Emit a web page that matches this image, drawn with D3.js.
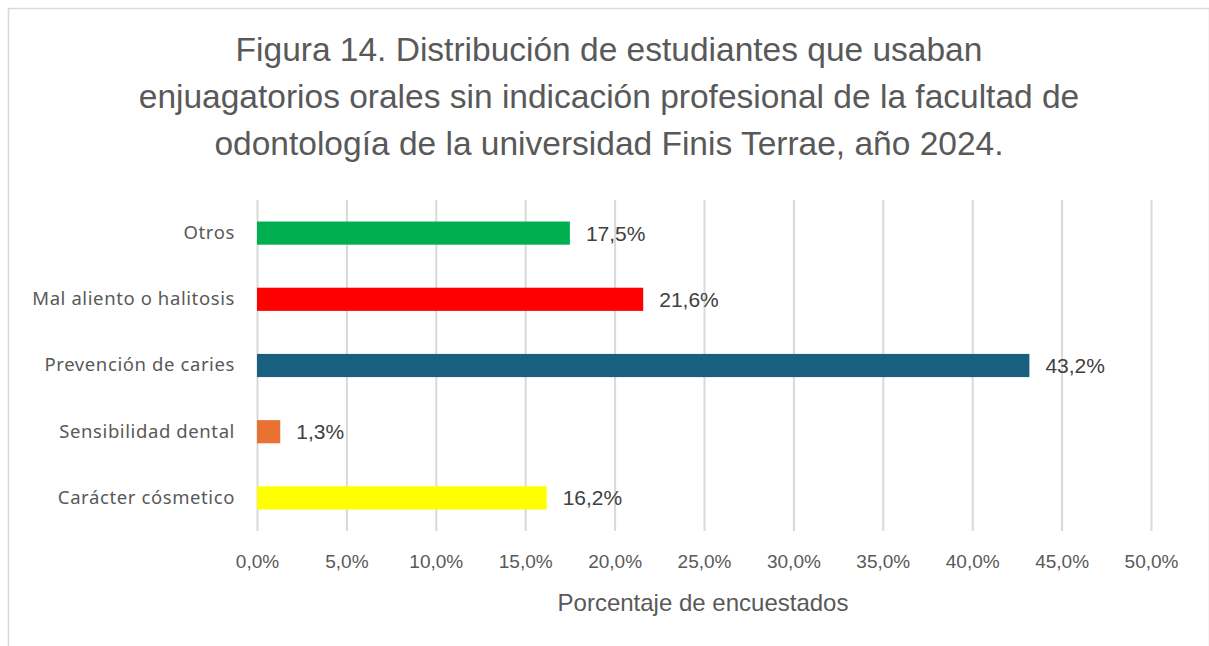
<!DOCTYPE html>
<meta charset="utf-8">
<style>
body { margin: 0; background: #fff; }
.grid line { stroke: #d9d9d9; stroke-width: 2px; }
.grid path { display: none; }
.axisx text { fill: #595959; font-family: "Liberation Sans", Arimo, sans-serif; font-size: 19px; }
.axisx path, .axisx line { display: none; }
.axisy text { fill: #595959; font-family: "Noto Sans", sans-serif; font-size: 18.5px; letter-spacing: 0.6px; }
.axisy path, .axisy line { display: none; }
</style>
<body>
<script src="https://d3js.org/d3.v7.min.js"></script>
<script>

// data
var categories = ["Otros", "Mal aliento o halitosis", "Prevención de caries", "Sensibilidad dental", "Carácter cósmetico"];
var values = [17.5, 21.6, 43.2, 1.3, 16.2];
var barColors = ["#00b050", "#ff0000", "#185f80", "#e97132", "#ffff00"];
var xTicks = [0, 5, 10, 15, 20, 25, 30, 35, 40, 45, 50];
var titleLines = [
  "Figura 14. Distribución de estudiantes que usaban",
  "enjuagatorios orales sin indicación profesional de la facultad de",
  "odontología de la universidad Finis Terrae, año 2024."
];

var W = 1209, H = 646;
var svg = d3.select("body").append("svg")
    .attr("width", W)
    .attr("height", H);

// outer chart frame
svg.append("rect")
    .attr("x", 8.5).attr("y", 8.5)
    .attr("width", W - 8).attr("height", H)
    .attr("fill", "#fff")
    .attr("stroke", "#d9d9d9")
    .attr("stroke-width", 1.5);

var x = d3.scaleLinear().domain([0, 50]).range([257, 1151]);
var y = d3.scaleBand().domain(categories).range([200, 531]).paddingInner(0.65).paddingOuter(0.325);

// title
svg.append("g").selectAll("text")
    .data(titleLines)
  .enter().append("text")
    .attr("x", 609)
    .attr("y", function(d, i) { return 61 + i * 47; })
    .attr("text-anchor", "middle")
    .style("font-family", '"Liberation Sans", Arimo, sans-serif')
    .style("font-size", "33.5px")
    .style("fill", "#595959")
    .text(function(d) { return d; });

// vertical gridlines
svg.append("g")
    .attr("class", "grid")
    .attr("transform", "translate(0,531)")
    .call(d3.axisBottom(x).tickValues(xTicks).tickSize(-331).tickFormat(""));

// bars
svg.selectAll(".bar")
    .data(values)
  .enter().append("rect")
    .attr("class", "bar")
    .attr("x", x(0))
    .attr("y", function(d, i) { return y(categories[i]); })
    .attr("width", function(d) { return x(d) - x(0); })
    .attr("height", y.bandwidth())
    .attr("fill", function(d, i) { return barColors[i]; });

// data labels
svg.selectAll(".lbl")
    .data(values)
  .enter().append("text")
    .attr("class", "lbl")
    .attr("x", function(d) { return x(d) + 16; })
    .attr("y", function(d, i) { return y(categories[i]) + y.bandwidth() / 2; })
    .attr("dy", "0.36em")
    .style("font-family", '"Liberation Sans", Arimo, sans-serif')
    .style("font-size", "21px")
    .style("fill", "#404040")
    .text(function(d) { return d.toFixed(1).replace(".", ",") + "%"; });

// x axis
svg.append("g")
    .attr("class", "axisx")
    .attr("transform", "translate(0,551)")
    .call(d3.axisBottom(x).tickValues(xTicks).tickSize(0)
      .tickFormat(function(d) { return d.toFixed(1).replace(".", ",") + "%"; }));

// y axis
svg.append("g")
    .attr("class", "axisy")
    .attr("transform", "translate(" + (x(0) - 19) + ",0)")
    .call(d3.axisLeft(y).tickSize(0));

// axis title
svg.append("text")
    .attr("x", 703)
    .attr("y", 611)
    .attr("text-anchor", "middle")
    .style("font-family", '"Liberation Sans", Arimo, sans-serif')
    .style("font-size", "24px")
    .style("fill", "#595959")
    .text("Porcentaje de encuestados");

</script>
</body>
